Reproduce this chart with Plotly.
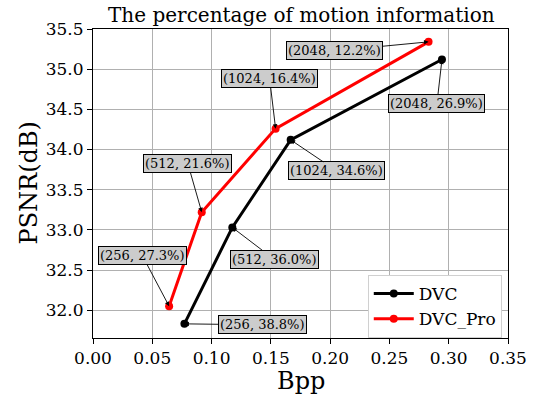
import plotly.graph_objects as go

# Rate-distortion points (bits per pixel vs. PSNR)
dvc_bpp = [0.0771, 0.1175, 0.1667, 0.2943]
dvc_psnr = [31.83, 33.03, 34.12, 35.12]
pro_bpp = [0.0642, 0.0917, 0.1540, 0.2830]
pro_psnr = [32.05, 33.22, 34.26, 35.34]

# Point labels: (bitrate setting, share of motion information)
dvc_labels = ["(256, 38.8%)", "(512, 36.0%)", "(1024, 34.6%)", "(2048, 26.9%)"]
pro_labels = ["(256, 27.3%)", "(512, 21.6%)", "(1024, 16.4%)", "(2048, 12.2%)"]

# label offsets in pixels from each point
dvc_off = [(78, 1), (42, 32), (46, 31), (-5, 44)]
pro_off = [(-27, -51), (-14, -49), (-6, -50), (-94, 9)]

FONT = "DejaVu Serif"

fig = go.Figure()
fig.add_trace(go.Scatter(
    x=dvc_bpp, y=dvc_psnr, mode="lines+markers", name="DVC",
    line=dict(color="black", width=3), marker=dict(color="black", size=8),
))
fig.add_trace(go.Scatter(
    x=pro_bpp, y=pro_psnr, mode="lines+markers", name="DVC_Pro",
    line=dict(color="#ff0000", width=3), marker=dict(color="#ff0000", size=8),
))

annotations = []
for xs, ys, labels, offs in [(dvc_bpp, dvc_psnr, dvc_labels, dvc_off),
                              (pro_bpp, pro_psnr, pro_labels, pro_off)]:
    for x, y, t, (ax, ay) in zip(xs, ys, labels, offs):
        annotations.append(dict(
            x=x, y=y, xref="x", yref="y", text=t,
            ax=ax, ay=ay, showarrow=True,
            arrowhead=2, arrowsize=1, arrowwidth=0.9, arrowcolor="black",
            font=dict(family=FONT, size=13, color="black"),
            bgcolor="#cccccc", bordercolor="black", borderwidth=1, borderpad=1,
        ))

# axis titles
annotations.append(dict(
    text="Bpp", xref="paper", yref="paper", x=0.5, y=0, yshift=-43,
    xanchor="center", yanchor="middle", showarrow=False,
    font=dict(family=FONT, size=24, color="black"),
))
annotations.append(dict(
    text="PSNR(dB)", xref="paper", yref="paper", x=0, xshift=-65, y=0.5,
    xanchor="center", yanchor="middle", textangle=-90, showarrow=False,
    font=dict(family=FONT, size=24, color="black"),
))

fig.update_layout(
    width=540, height=395,
    margin=dict(l=93, r=32, t=29, b=57),
    paper_bgcolor="white", plot_bgcolor="white",
    font=dict(family=FONT, color="black"),
    title=dict(text="The percentage of motion information",
               x=0.558, xanchor="center", y=0.962, yanchor="middle",
               font=dict(family=FONT, size=20, color="black")),
    annotations=annotations,
    showlegend=True,
    legend=dict(x=0.985, y=0.0, xanchor="right", yanchor="bottom",
                bgcolor="white", bordercolor="#d0d0d0", borderwidth=1,
                font=dict(family=FONT, size=17, color="black"),
                itemwidth=40, tracegroupgap=0),
)

fig.update_xaxes(
    range=[0, 0.35], tickvals=[0, 0.05, 0.1, 0.15, 0.2, 0.25, 0.3, 0.35],
    tickformat=".2f", showgrid=True, gridcolor="#b0b0b0", gridwidth=1,
    showline=True, linecolor="black", linewidth=1, mirror=True,
    ticks="outside", ticklen=5, tickcolor="black", zeroline=False,
    tickfont=dict(family=FONT, size=17, color="black"), automargin=False,
)
fig.update_yaxes(
    range=[31.654, 35.5], tickvals=[32.0, 32.5, 33.0, 33.5, 34.0, 34.5, 35.0, 35.5],
    tickformat=".1f", showgrid=True, gridcolor="#b0b0b0", gridwidth=1,
    showline=True, linecolor="black", linewidth=1, mirror=True,
    ticks="outside", ticklen=5, tickcolor="black", zeroline=False,
    tickfont=dict(family=FONT, size=17, color="black"), automargin=False,
)

fig.write_html("out.html")
